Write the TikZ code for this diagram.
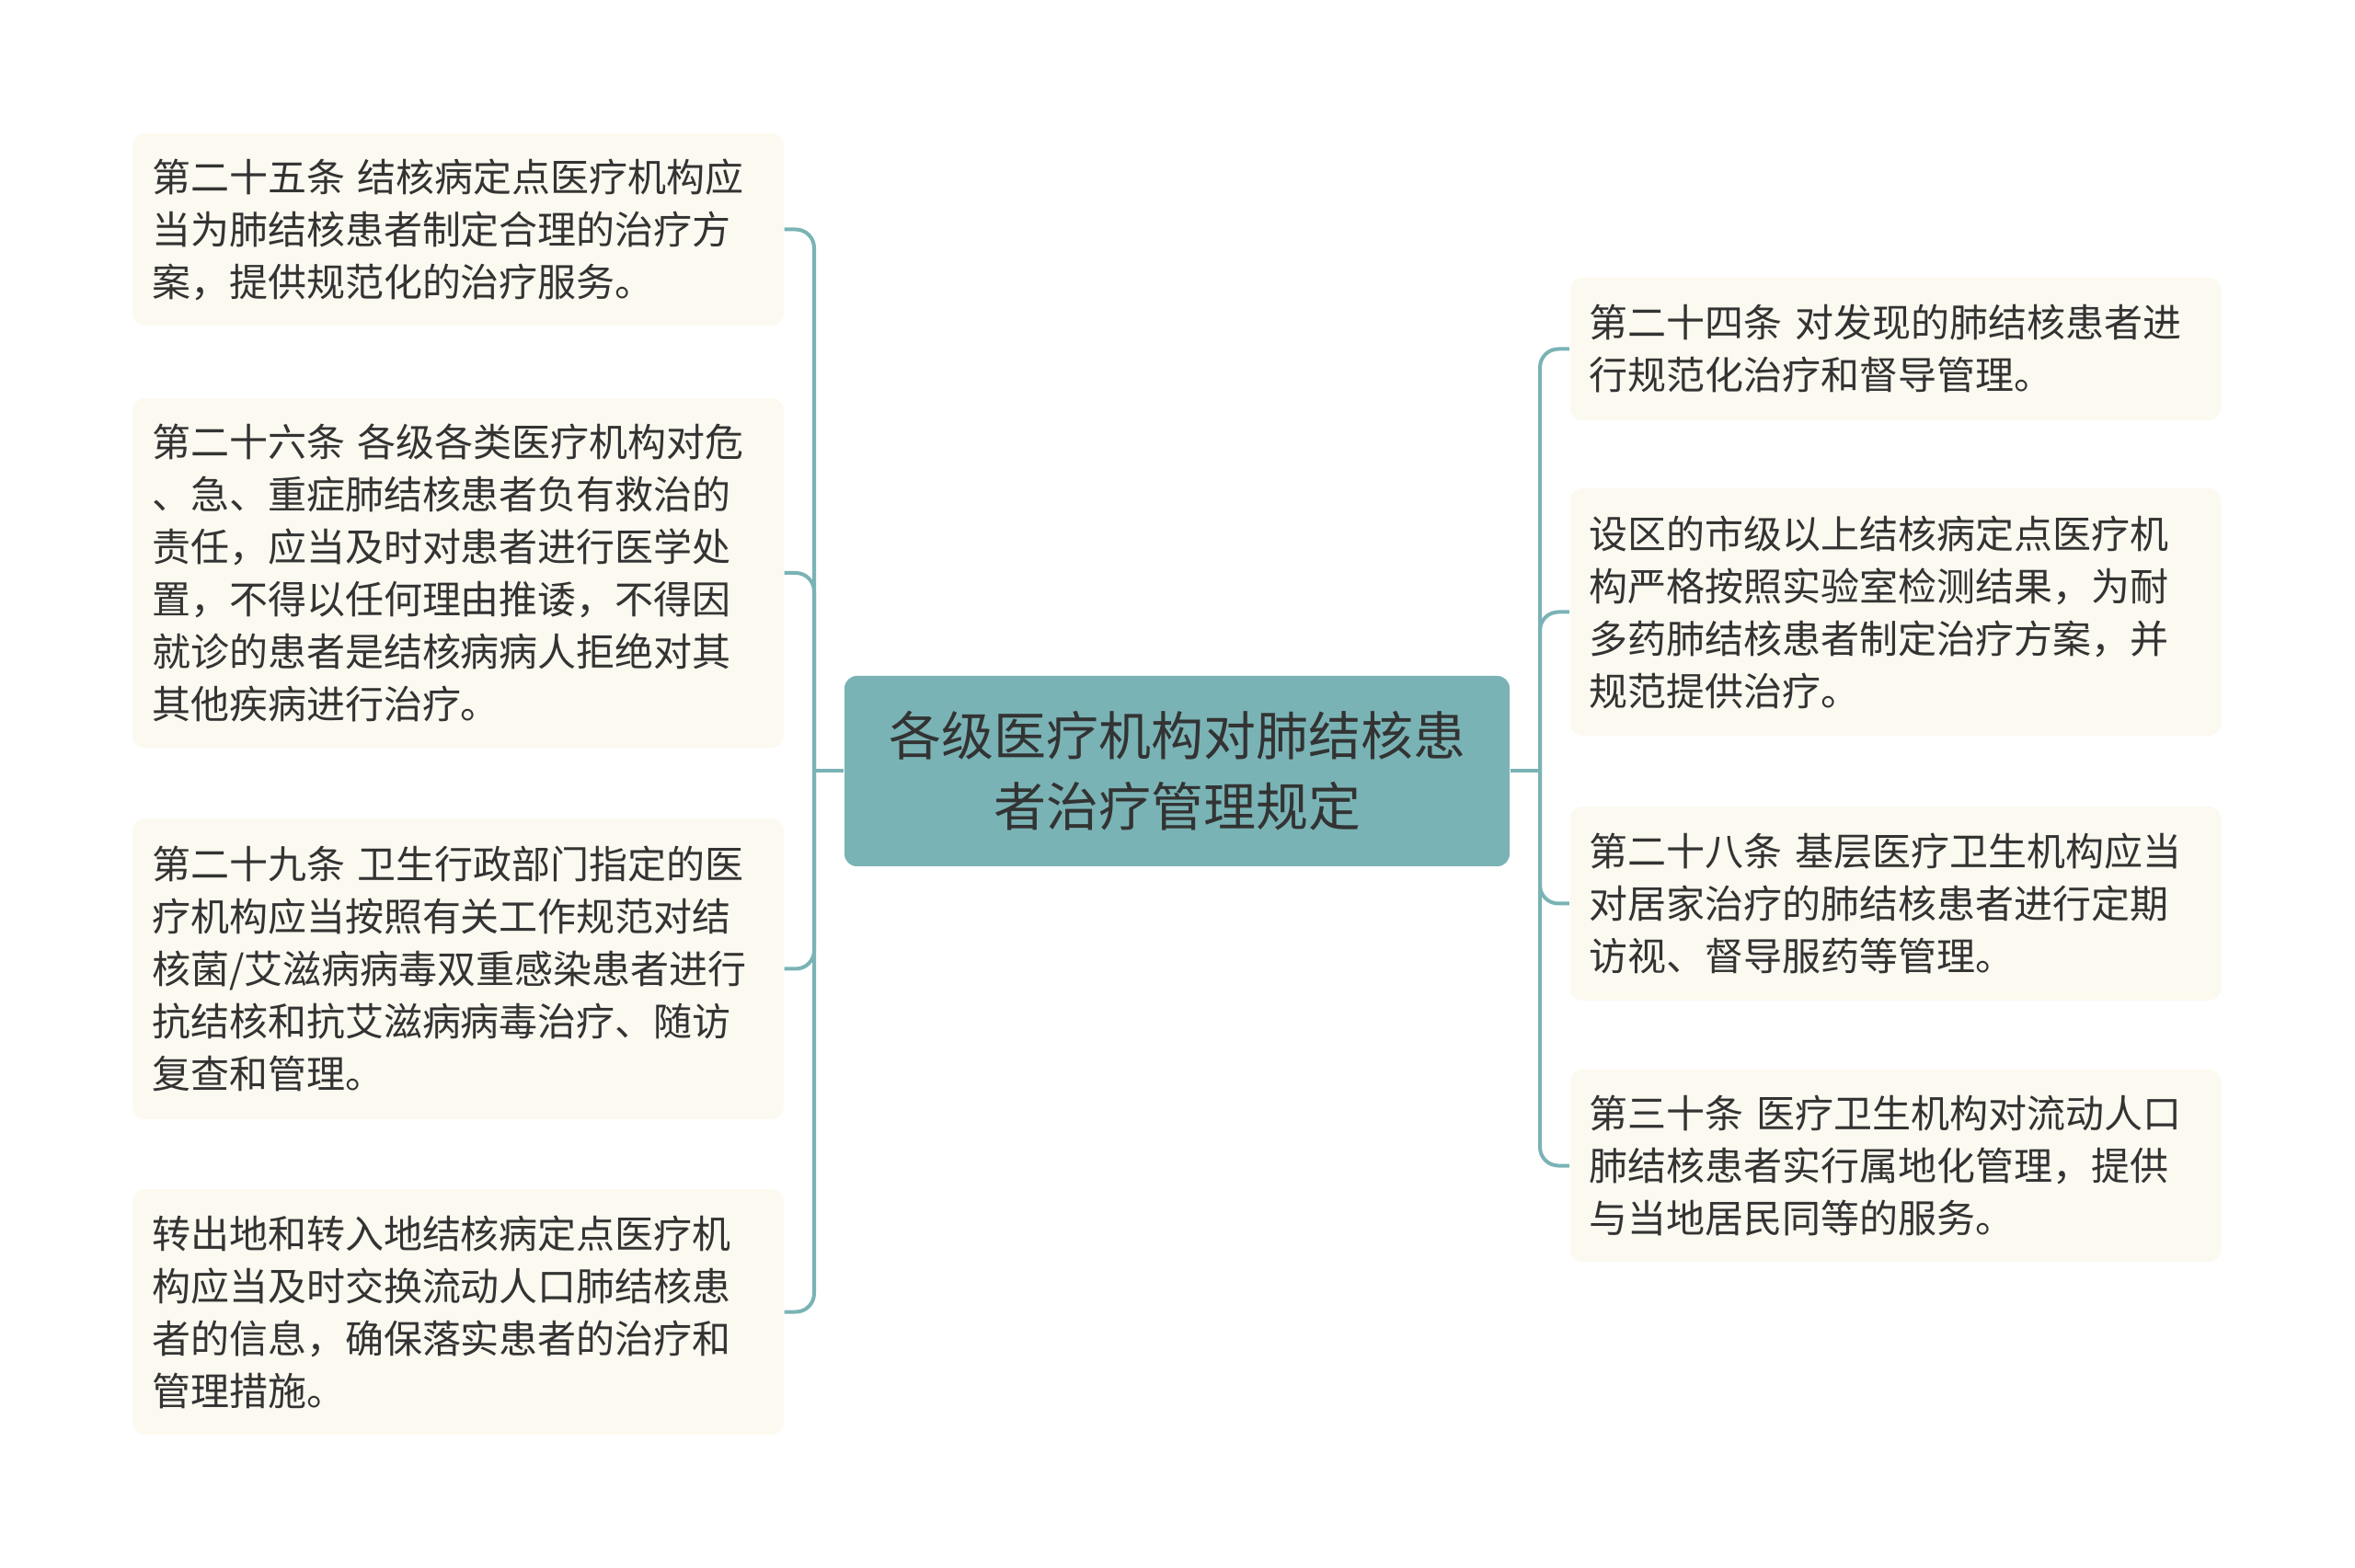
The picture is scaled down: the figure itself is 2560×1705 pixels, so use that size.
\documentclass[tikz,border=0pt]{standalone}
\usepackage{fontspec}
\setmainfont{Noto Sans CJK SC}
\usepackage{tikz}
\usetikzlibrary{positioning}

\definecolor{branch}{HTML}{7AB3B5}
\definecolor{leaffill}{HTML}{FCF9F0}
\definecolor{ink}{HTML}{333333}

\tikzset{
    root/.style={rectangle, rounded corners=4pt, fill=branch, text=ink,
        minimum width=216.9pt, minimum height=62.1pt, align=center,
        font=\fontsize{17.1pt}{23.1pt}\selectfont},
    leaf/.style={rectangle, rounded corners=4pt, fill=leaffill, text=ink,
        text width=199.8pt, inner xsep=6.3pt, align=left,
        font=\fontsize{12.6pt}{17.1pt}\selectfont},
    link/.style={draw=branch, line width=1.2pt, rounded corners=6pt}
}

\begin{document}
\begin{tikzpicture}[x=0.3pt, y=-0.3pt]
        \useasboundingbox (0,0) rectangle (2560,1705);
        \node [root] (r) at (1279.5,838.5) {各级医疗机构对肺结核患\\者治疗管理规定};
        \coordinate (lt) at (885,838.5);
        \coordinate (rt) at (1674,838.5);
        \node [leaf,minimum height=62.7pt] (a) at (498,249.5) {第二十五条~结核病定点医疗机构应\\当为肺结核患者制定合理的治疗方\\案，提供规范化的治疗服务。};
        \node [leaf,minimum height=114pt] (b) at (498,623) {第二十六条~各级各类医疗机构对危\\、急、重症肺结核患者负有救治的\\责任，应当及时对患者进行医学处\\置，不得以任何理由推诿，不得因\\就诊的患者是结核病病人拒绝对其\\其他疾病进行治疗。};
        \node [leaf,minimum height=98.1pt] (c) at (498,1053.5) {第二十九条~卫生行政部门指定的医\\疗机构应当按照有关工作规范对结\\核菌/艾滋病病毒双重感染患者进行\\抗结核和抗艾滋病病毒治疗、随访\\复查和管理。};
        \node [leaf,minimum height=80.1pt] (d) at (498,1426.5) {转出地和转入地结核病定点医疗机\\构应当及时交换流动人口肺结核患\\者的信息，确保落实患者的治疗和\\管理措施。};
        \node [leaf,minimum height=46.5pt] (e) at (2060.5,379.5) {第二十四条~对发现的肺结核患者进\\行规范化治疗和督导管理。};
        \node [leaf,minimum height=80.7pt] (f) at (2060.5,665.5) {设区的市级以上结核病定点医疗机\\构严格按照实验室检测结果，为耐\\多药肺结核患者制定治疗方案，并\\规范提供治疗。};
        \node [leaf,minimum height=63.3pt] (g) at (2060.5,982.5) {第二十八条~基层医疗卫生机构应当\\对居家治疗的肺结核患者进行定期\\访视、督导服药等管理。};
        \node [leaf,minimum height=62.7pt] (h) at (2060.5,1267.5) {第三十条~医疗卫生机构对流动人口\\肺结核患者实行属地化管理，提供\\与当地居民同等的服务。};
        \path [link]
            (r.west) -- (lt)
            (r.east) -- (rt);
        \foreach \n in {a,b,c,d}
            \draw [link] (lt) |- (\n.east);
        \foreach \n in {e,f,g,h}
            \draw [link] (rt) |- (\n.west);
    \end{tikzpicture}
\end{document}
